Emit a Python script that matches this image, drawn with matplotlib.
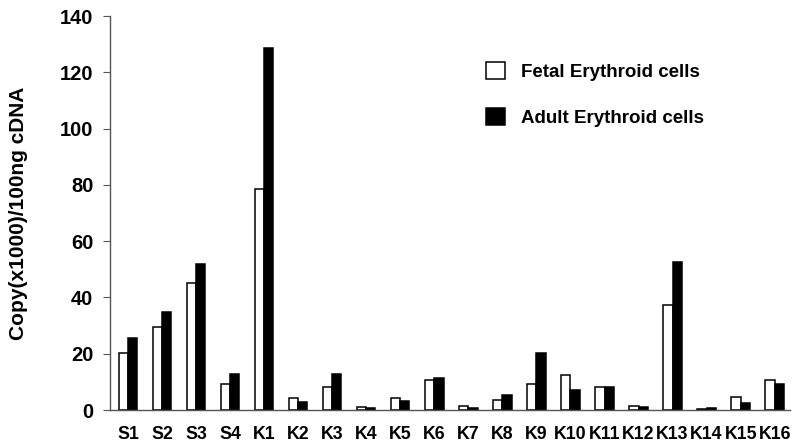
import numpy as np
import matplotlib
matplotlib.use("Agg")
import matplotlib.pyplot as plt

# --- Data ---
samples = ["S1", "S2", "S3", "S4", "K1", "K2", "K3", "K4", "K5", "K6",
           "K7", "K8", "K9", "K10", "K11", "K12", "K13", "K14", "K15", "K16"]
fetal = [20.2, 29.4, 45.0, 9.2, 78.4, 4.2, 8.3, 1.1, 4.2, 10.7,
         1.3, 3.7, 9.4, 12.4, 8.3, 1.3, 37.2, 0.5, 4.6, 10.7]
adult = [25.7, 34.9, 51.8, 12.9, 128.5, 2.7, 12.9, 0.6, 3.3, 11.5,
         0.6, 5.2, 20.4, 7.0, 8.3, 1.1, 52.6, 0.6, 2.4, 9.4]

plt.rcParams['font.family'] = ['Liberation Sans', 'DejaVu Sans']
plt.rcParams['font.weight'] = 'bold'

fig = plt.figure(figsize=(8, 4.46), dpi=100)
ax = fig.add_axes([0.1375, 0.0807, 0.85, 0.8833])

x = np.arange(len(samples))
w = 0.27
ax.bar(x - w / 2, fetal, w, color='white', edgecolor='black', linewidth=1.1,
       label='Fetal Erythroid cells')
ax.bar(x + w / 2, adult, w, color='black', edgecolor='black', linewidth=1.1,
       label='Adult Erythroid cells')

ax.set_xlim(-0.53, 19.45)
ax.set_ylim(0, 140)
ax.set_yticks(range(0, 141, 20))
ax.set_xticks(x)
ax.set_xticklabels(samples, fontsize=12.8, fontweight='bold')
ax.tick_params(axis='y', labelsize=14.5, length=5, width=0.8, color='#555555', pad=7)
ax.tick_params(axis='x', length=0, pad=11.5)
for lab in ax.get_yticklabels():
    lab.set_fontweight('bold')

ax.set_ylabel("Copy(x1000)/100ng cDNA", fontsize=15, fontweight='bold', labelpad=23)

for s in ['top', 'right']:
    ax.spines[s].set_visible(False)
for s in ['left', 'bottom']:
    ax.spines[s].set_color('#555555')
    ax.spines[s].set_linewidth(1.0)

fig.legend(loc='upper left', bbox_to_anchor=(486 / 800, 1 - 62 / 446),
           frameon=False, handlelength=1.0, handleheight=1.0,
           handletextpad=0.85, labelspacing=1.45, borderpad=0, borderaxespad=0,
           prop={'weight': 'bold', 'size': 13.5})

fig.savefig("out.png", dpi=100)
